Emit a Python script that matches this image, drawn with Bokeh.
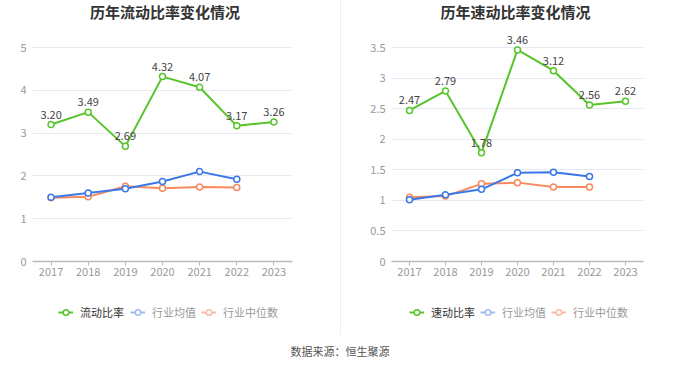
from bokeh.plotting import figure
from bokeh.models import (ColumnDataSource, Range1d, FixedTicker, NumeralTickFormatter,
                          Legend, LegendItem, Div)
from bokeh.core.properties import value
from bokeh.layouts import column, row
from bokeh.embed import file_html
from bokeh.resources import INLINE

FONT = "Noto Sans CJK SC"

years = ["2017", "2018", "2019", "2020", "2021", "2022", "2023"]
ind_years = ["2017", "2018", "2019", "2020", "2021", "2022"]

current_ratio = [3.20, 3.49, 2.69, 4.32, 4.07, 3.17, 3.26]
current_ind_mean = [1.50, 1.60, 1.70, 1.87, 2.10, 1.92]
current_ind_median = [1.49, 1.51, 1.76, 1.71, 1.74, 1.73]

quick_ratio = [2.47, 2.79, 1.78, 3.46, 3.12, 2.56, 2.62]
quick_ind_mean = [1.01, 1.09, 1.18, 1.45, 1.46, 1.39]
quick_ind_median = [1.05, 1.07, 1.27, 1.29, 1.22, 1.22]

left_ticks = [0, 1, 2, 3, 4, 5]
right_ticks = [0, 0.5, 1, 1.5, 2, 2.5, 3, 3.5]

GREEN = "#56c42a"
BLUE = "#3b78e7"
ORANGE = "#f98a5e"
BLUE_L = "#9fbaf3"
ORANGE_L = "#f9bba3"

DIVIDER = {"border-left": "1px solid #eeeeee"}

AXIS_PX = 214      # pixel height from the 0 line to the top gridline
HEADROOM_PX = 19   # extra frame space above the top gridline (room for labels)


def make_panel(main_vals, mean_vals, median_vals, yticks, border_left, border_right):
    top = yticks[-1]
    y_end = top + HEADROOM_PX * top / AXIS_PX
    p = figure(width=340, height=266, x_range=years,
               y_range=Range1d(yticks[0], y_end),
               output_backend="svg", toolbar_location=None,
               min_border_left=border_left, min_border_right=border_right,
               min_border_top=4, min_border_bottom=29)
    p.outline_line_color = None
    p.background_fill_color = "white"
    p.border_fill_color = "white"
    p.xgrid.grid_line_color = None
    p.ygrid.grid_line_color = "#e6e9f0"
    p.ygrid.grid_line_width = 1

    p.yaxis.ticker = FixedTicker(ticks=yticks)
    p.yaxis.formatter = NumeralTickFormatter(format="0.[0]")
    p.yaxis.axis_line_color = None
    p.yaxis.major_tick_line_color = None
    p.yaxis.major_tick_out = 0
    p.yaxis.major_tick_in = 0
    p.yaxis.minor_tick_line_color = None
    p.yaxis.major_label_text_color = "#999999"
    p.yaxis.major_label_text_font = FONT
    p.yaxis.major_label_text_font_size = "11px"
    p.yaxis.major_label_standoff = 6

    p.xaxis.axis_line_color = "#b8b8b8"
    p.xaxis.axis_line_width = 1.5
    p.xaxis.major_tick_line_color = "#b8b8b8"
    p.xaxis.major_tick_out = 4
    p.xaxis.major_tick_in = 0
    p.xaxis.minor_tick_line_color = None
    p.xaxis.major_label_text_color = "#999999"
    p.xaxis.major_label_text_font = FONT
    p.xaxis.major_label_text_font_size = "11px"
    p.xaxis.major_label_standoff = 2

    src_main = ColumnDataSource(dict(x=years, y=main_vals,
                                     lab=["%.2f" % v for v in main_vals]))
    src_mean = ColumnDataSource(dict(x=ind_years, y=mean_vals))
    src_med = ColumnDataSource(dict(x=ind_years, y=median_vals))

    p.line("x", "y", source=src_med, line_color=ORANGE, line_width=2)
    p.scatter("x", "y", source=src_med, marker="circle", size=6,
              line_color=ORANGE, line_width=1.5, fill_color="white")
    p.line("x", "y", source=src_mean, line_color=BLUE, line_width=2)
    p.scatter("x", "y", source=src_mean, marker="circle", size=6,
              line_color=BLUE, line_width=1.5, fill_color="white")
    p.line("x", "y", source=src_main, line_color=GREEN, line_width=2)
    p.scatter("x", "y", source=src_main, marker="circle", size=6,
              line_color=GREEN, line_width=1.5, fill_color="white")
    p.text("x", "y", text="lab", source=src_main, text_align="center",
           text_baseline="bottom", y_offset=-6, text_font_size="11px",
           text_color="#444444", text_font=value(FONT))
    return p


def make_legend(main_name, legA_x, legB_x):
    lf = figure(width=340, height=45, x_range=Range1d(0, 1), y_range=Range1d(0, 1),
                x_axis_type=None, y_axis_type=None,
                output_backend="svg", toolbar_location=None,
                min_border=0, min_border_left=0, min_border_right=0,
                min_border_top=0, min_border_bottom=0)
    lf.outline_line_color = None
    lf.grid.grid_line_color = None
    lf.border_fill_color = "white"
    lf.background_fill_color = "white"

    def pair(color):
        # legend proxy: a single missing value, so nothing shows in the frame
        src = ColumnDataSource(dict(x=[float("nan")], y=[float("nan")]))
        ln = lf.line("x", "y", source=src, line_color=color, line_width=2)
        mk = lf.scatter("x", "y", source=src, marker="circle", size=7,
                        line_color=color, line_width=1.5, fill_color="white")
        return [ln, mk]

    def style(leg, color):
        leg.orientation = "horizontal"
        leg.padding = 0
        leg.margin = 0
        leg.spacing = 5
        leg.border_line_color = None
        leg.background_fill_alpha = 0
        leg.glyph_width = 15
        leg.glyph_height = 14
        leg.label_height = 14
        leg.label_standoff = 7
        leg.label_text_font = FONT
        leg.label_text_font_size = "11px"
        leg.label_text_color = color
        leg.label_text_baseline = "middle"

    legA = Legend(items=[LegendItem(label=main_name, renderers=pair(GREEN))],
                  location=(legA_x, 15))
    style(legA, "#333333")
    legB = Legend(items=[LegendItem(label="行业均值", renderers=pair(BLUE_L)),
                         LegendItem(label="行业中位数", renderers=pair(ORANGE_L))],
                  location=(legB_x, 15))
    style(legB, "#999999")
    lf.add_layout(legA)
    lf.add_layout(legB)
    return lf


def title_div(text, pad_side, pad, extra=None):
    styles = {"margin": "0"}
    if extra:
        styles.update(extra)
    return Div(text=('<div style="width:340px;box-sizing:border-box;%s:%dpx;'
                     'text-align:center;font-size:15px;font-weight:bold;'
                     'line-height:23px;color:#333333;font-family:\'Noto Sans CJK SC\';">%s</div>')
                    % (pad_side, pad, text),
               width=340, height=24, margin=0, styles=styles)


p1 = make_panel(current_ratio, current_ind_mean, current_ind_median, left_ticks, 32, 48)
p2 = make_panel(quick_ratio, quick_ind_mean, quick_ind_median, right_ticks, 50, 38)
p2.styles = dict(DIVIDER)

l1 = make_legend("流动比率", 58, 130)
l2 = make_legend("速动比率", 68, 139)
l2.styles = dict(DIVIDER)

t1 = title_div("历年流动比率变化情况", "padding-right", 10)
t2 = title_div("历年速动比率变化情况", "padding-left", 9, DIVIDER)

src_div = Div(text='<div style="width:680px;text-align:center;font-size:11px;line-height:32px;'
                   'color:#555555;font-family:\'Noto Sans CJK SC\';">数据来源：恒生聚源</div>',
              width=680, height=32, margin=0)

layout = column(row(t1, t2), row(p1, p2), row(l1, l2), src_div)
open("out.html", "w").write(file_html(layout, INLINE))
